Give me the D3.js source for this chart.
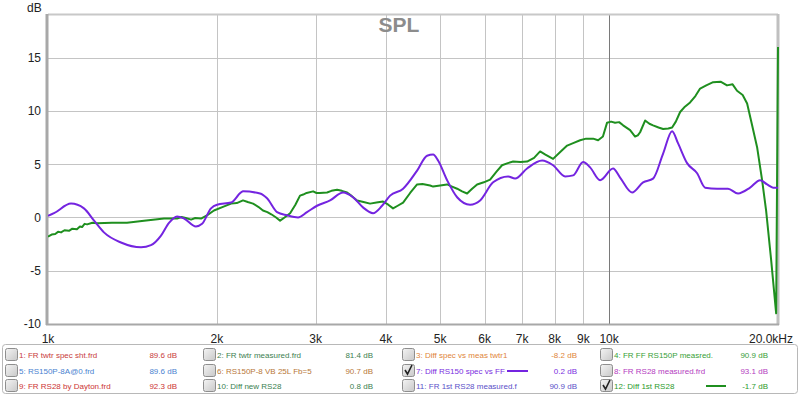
<!DOCTYPE html>
<html><head><meta charset="utf-8">
<script src="https://cdn.jsdelivr.net/npm/d3@7"></script>
<style>body{margin:0;background:#fff;}svg{display:block;font-family:"Liberation Sans",Arial,sans-serif;}</style>
</head><body>
<svg id="c" width="800" height="396"></svg>
<script>
// ---- data ----
const xTicks = [1000,2000,3000,4000,5000,6000,7000,8000,9000,10000,20000];
const xTickLabels = ["1k","2k","3k","4k","5k","6k","7k","8k","9k","10k","20.0kHz"];
const yTicks = [-10,-5,0,5,10,15];
const yTickLabels = ["-10","-5","0","5","10","15"];

const purpleFreq = [1000,1025,1099,1159,1208,1258,1349,1465,1526,1590,1643,1698,1748,1835,1882,1952,2001,2120,2208,2226,2387,2457,2560,2667,2790,2895,3016,3182,3357,3497,3642,3796,3939,4071,4294,4548,4738,4857,4957,5144,5360,5653,5890,6213,6607,6799,7142,7597,7946,8350,8628,8989,9250,9638,10165,10462,10990,11497,11977,12481,12951,13274,13772,14351,14829,15578,16291,16974,17836,18584,19126,19605,20000];
const purpleDb = [0.15,0.4,1.3,0.85,-0.3,-1.4,-2.35,-2.8,-2.6,-1.7,-0.5,0.1,-0.1,-0.85,-0.6,0.85,1.2,1.4,2.35,2.45,2.25,1.8,0.5,0.2,0.0,0.5,1.1,1.6,2.35,1.9,0.95,0.4,1.1,2.05,2.7,4.4,5.8,5.9,5.35,3.5,1.9,1.2,1.6,3.3,3.85,3.65,4.6,5.35,4.9,3.85,3.95,5.2,4.7,3.5,4.6,3.75,2.35,3.3,3.65,6.0,8.1,6.95,5.1,4.15,2.8,2.7,2.7,2.25,2.8,3.5,3.1,2.8,2.8];

const greenFreq = [1000,1015,1030,1042,1055,1070,1090,1105,1126,1140,1150,1162,1174,1200,1223,1300,1383,1483,1610,1698,1730,1760,1799,1830,1874,1920,1976,2050,2120,2170,2226,2270,2320,2370,2416,2460,2500,2550,2592,2640,2701,2760,2813,2850,2890,2968,3010,3050,3143,3200,3275,3340,3412,3480,3555,3650,3750,3850,3955,4040,4121,4200,4294,4420,4548,4650,4797,4857,5000,5144,5250,5360,5470,5584,5700,5818,5980,6137,6300,6444,6600,6744,6950,7142,7350,7534,7700,7946,8200,8419,8650,8879,9100,9365,9559,9750,9918,10080,10249,10420,10592,10900,11126,11250,11357,11592,11800,11977,12250,12481,12750,12951,13150,13385,13650,13944,14250,14528,14900,15325,15800,16224,16600,16905,17300,17620,17984,18356,18737,19048,19446,19848,20000];
const greenDb = [-1.8,-1.6,-1.55,-1.35,-1.4,-1.2,-1.25,-1.05,-1.1,-0.85,-0.9,-0.6,-0.65,-0.5,-0.55,-0.5,-0.5,-0.3,-0.1,-0.1,0.05,-0.05,-0.2,-0.05,-0.1,0.2,0.65,1.0,1.3,1.35,1.6,1.45,1.3,1.0,0.65,0.5,0.3,0.0,-0.3,0.0,0.4,1.2,2.05,2.15,2.3,2.45,2.3,2.3,2.35,2.5,2.6,2.5,2.35,2.0,1.6,1.45,1.3,1.4,1.5,1.2,0.85,1.1,1.4,2.3,3.1,3.15,3.0,2.9,3.0,3.1,2.9,2.7,2.45,2.25,2.7,3.1,3.3,3.55,4.3,4.9,5.1,5.25,5.2,5.25,5.6,6.2,5.9,5.5,6.2,6.75,7.0,7.25,7.4,7.4,7.25,7.6,8.9,9.0,8.9,8.95,8.65,8.2,7.6,7.7,8.0,9.1,8.8,8.65,8.45,8.3,8.35,8.45,9.0,9.9,10.4,10.8,11.4,12.1,12.4,12.7,12.75,12.4,12.5,11.9,11.5,10.7,8.65,6.6,3.5,0.65,-4.0,-9.0,16.0];

const legendLabels = ["1: FR twtr spec sht.frd","2: FR twtr measured.frd","3: Diff spec vs meas twtr1","4: FR FF RS150P measred.",
  "5: RS150P-8A@0.frd","6: RS150P-8 VB 25L Fb=5","7: Diff RS150 spec vs FF","8: FR RS28 measured.frd",
  "9: FR RS28 by Dayton.frd","10: Diff new RS28","11: FR 1st RS28 measured.f","12: Diff 1st RS28"];
const legendValues = ["89.6 dB","81.4 dB","-8.2 dB","90.9 dB","89.6 dB","90.7 dB","0.2 dB","93.1 dB","92.3 dB","0.8 dB","90.9 dB","-1.7 dB"];
const legendColors = ["#c83c3c","#3c8050","#e0853a","#38a038","#4a82d0","#b87838","#7a2ee0","#b43cc0","#cc3434","#3a8050","#5a50c8","#2c9a2c"];
const legendChecked = [false,false,false,false,false,false,true,false,false,false,false,true];

// ---- layout ----
const svg = d3.select("#c");
const L=48, R=778, T=14, B=324;
const x = d3.scaleLog().domain([1000,20000]).range([L,R]);
const y = d3.scaleLinear().domain([-10,19.1]).range([B,T]);

svg.append("rect").attr("x",L).attr("y",T).attr("width",R-L).attr("height",B-T).attr("fill","#fff");

// grid
svg.append("g").selectAll("line").data(yTicks.filter(d=>d>-10)).join("line")
  .attr("x1",L).attr("x2",R).attr("y1",d=>Math.round(y(d))+0.5).attr("y2",d=>Math.round(y(d))+0.5)
  .attr("stroke","#c4c4c4").attr("stroke-width",1);
svg.append("g").selectAll("line").data(xTicks.filter(d=>d>1000&&d<20000)).join("line")
  .attr("x1",d=>Math.round(x(d))+0.5).attr("x2",d=>Math.round(x(d))+0.5).attr("y1",T).attr("y2",B)
  .attr("stroke",d=>d===10000?"#7a7a7a":"#c4c4c4").attr("stroke-width",1);

// frame
svg.append("line").attr("x1",L).attr("x2",R).attr("y1",T+0.5).attr("y2",T+0.5).attr("stroke","#c8c8c8").attr("stroke-width",2);
svg.append("line").attr("x1",R).attr("x2",R).attr("y1",T).attr("y2",B+1).attr("stroke","#c0c0c0").attr("stroke-width",3);
svg.append("line").attr("x1",L-1).attr("x2",L-1).attr("y1",T).attr("y2",B+1).attr("stroke","#a8a8a8").attr("stroke-width",3);
svg.append("line").attr("x1",L-2).attr("x2",R+1).attr("y1",B+0.5).attr("y2",B+0.5).attr("stroke","#a8a8a8").attr("stroke-width",2);

// clip
svg.append("clipPath").attr("id","pc").append("rect").attr("x",L).attr("y",T).attr("width",R-L+1).attr("height",B-T);

const lineSmooth = d3.line().x(d=>x(d[0])).y(d=>y(d[1])).curve(d3.curveMonotoneX);
const lineLin = d3.line().x(d=>x(d[0])).y(d=>y(d[1]));
const plot = svg.append("g").attr("clip-path","url(#pc)");
plot.append("path").datum(greenFreq.map((f,i)=>[f,greenDb[i]]))
  .attr("d",lineLin).attr("fill","none").attr("stroke","#1f8f1f").attr("stroke-width",2).attr("stroke-linejoin","round");
plot.append("path").datum(purpleFreq.map((f,i)=>[f,purpleDb[i]]))
  .attr("d",lineSmooth).attr("fill","none").attr("stroke","#7424e0").attr("stroke-width",2);

// axes labels
svg.append("g").selectAll("text").data(yTicks).join("text")
  .attr("x",41).attr("y",d=>y(d)).attr("dy","0.36em").attr("text-anchor","end")
  .attr("font-size",12).attr("fill","#222").text((d,i)=>yTickLabels[i]);
svg.append("text").attr("x",27).attr("y",12).attr("font-size",12).attr("fill","#222").text("dB");
svg.append("g").selectAll("text").data(xTicks).join("text")
  .attr("x",d=>d===20000?793:x(d)).attr("y",343).attr("text-anchor",d=>d===20000?"end":"middle")
  .attr("font-size",12).attr("fill","#222").text((d,i)=>xTickLabels[i]);

// title
svg.append("text").attr("x",399).attr("y",32).attr("text-anchor","middle")
  .attr("font-size",21).attr("font-weight","bold").attr("fill","#8c8c8c").text("SPL");

// legend
svg.append("rect").attr("x",2.5).attr("y",344.5).attr("width",795).attr("height",49).attr("rx",3)
  .attr("fill","#fff").attr("stroke","#b8b8b8");
const colBox=[5,203,402,600], colVal=[177,373,577,768], rowY=[355,371,386];
const defs = svg.append("defs");
const gr = defs.append("linearGradient").attr("id","cbg").attr("x1",0).attr("y1",0).attr("x2",1).attr("y2",1);
gr.append("stop").attr("offset","0%").attr("stop-color","#f4f4f4");
gr.append("stop").attr("offset","100%").attr("stop-color","#c8c8c8");
const idx = legendLabels.map((d,i)=>i);
const lg = svg.append("g").selectAll("g").data(idx).join("g")
  .attr("transform",i=>`translate(${colBox[i%4]},${rowY[Math.floor(i/4)]})`);
lg.append("rect").attr("x",0.5).attr("y",-6.5).attr("width",12).attr("height",12).attr("rx",2)
  .attr("fill","url(#cbg)").attr("stroke","#8e8e8e");
lg.filter(i=>legendChecked[i]).append("path")
  .attr("d","M3,-1 L5.5,3 L10,-6")
  .attr("fill","none").attr("stroke","#222").attr("stroke-width",1.6);
lg.append("text").attr("x",14).attr("y",0).attr("dy","0.35em")
  .attr("font-size",8).attr("fill",i=>legendColors[i]).text(i=>legendLabels[i]);
lg.append("text").attr("x",i=>colVal[i%4]-colBox[i%4]).attr("y",0).attr("dy","0.35em").attr("text-anchor","end")
  .attr("font-size",8).attr("fill",i=>legendColors[i]).text(i=>legendValues[i]);
lg.filter(i=>legendChecked[i]).append("line")
  .attr("x1",i=>i===6?105:106).attr("x2",i=>i===6?126:126).attr("y1",0).attr("y2",0)
  .attr("stroke",i=>i===6?"#7424e0":"#1f8f1f").attr("stroke-width",2);
</script>
</body></html>
